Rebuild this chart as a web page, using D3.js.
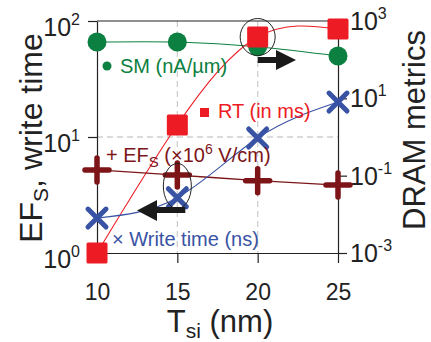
<!DOCTYPE html>
<html>
<head>
<meta charset="utf-8">
<script src="https://cdn.jsdelivr.net/npm/d3@7"></script>
<style>
  body { margin: 0; background: #fff; }
  svg { font-family: Arial, "Liberation Sans", Helvetica, sans-serif; }
</style>
</head>
<body>
<svg id="chart" width="431" height="342"></svg>
<script>
// Tsi (nm)
var tsi = [10, 15, 20, 25];
// left axis series
var efs = [5.2, 4.7, 4.2, 3.85];          // x10^6 V/cm
var writeTime = [2.0, 3.0, 9.8, 20];      // ns
// right axis series (DRAM metrics)
var sm = [286, 286, 215, 124];            // nA/um
var rt = [0.001, 2.05, 385, 620];         // ms

var xTicks = [10, 15, 20, 25];
var leftTicks = [1, 10, 100];
var rightTicks = [1e-3, 1e-1, 1e1, 1e3];

var colSM = "#0b8040", colRT = "#ed1c24", colEF = "#7d1518", colWT = "#3953a4";

var svg = d3.select("#chart");
//plot box (note: "top" is reserved on window, so use pTop)
var pLeft = 97, pRight = 338, pTop = 21, pBottom = 253;

var x = d3.scaleLinear().domain([10, 25]).range([pLeft, pRight]);
var yL = d3.scaleLog().domain([1, 100]).range([pBottom, pTop]);
var yR = d3.scaleLog().domain([1e-3, 1e3]).range([pBottom, pTop]);

//grid
var grid = svg.append("g").attr("stroke", "#cfcfcf").attr("stroke-width", 1.3).attr("stroke-dasharray", "6,4");
[15, 20].forEach(function (v) {
    grid.append("line").attr("x1", x(v)).attr("x2", x(v)).attr("y1", pTop).attr("y2", pBottom);
});
grid.append("line").attr("x1", pLeft).attr("x2", pRight).attr("y1", yL(10)).attr("y2", yL(10));

//top border
svg.append("line").attr("x1", pLeft).attr("x2", pRight).attr("y1", pTop).attr("y2", pTop)
    .attr("stroke", "#222").attr("stroke-width", 1.2);

function sup(v) {
    return Math.round(Math.log10(v));
}

//axes
var axB = svg.append("g").attr("transform", "translate(0," + pBottom + ")")
    .call(d3.axisBottom(x).tickValues(xTicks).tickSize(10).tickSizeOuter(0).tickFormat(d3.format("d")));
axB.selectAll("text").attr("dy", null).attr("y", 47).style("font-size", "23px").attr("fill", "#222");

var axL = svg.append("g").attr("transform", "translate(" + pLeft + ",0)")
    .call(d3.axisLeft(yL).tickValues(leftTicks).tickSize(9).tickSizeOuter(0).tickFormat(""));
var axR = svg.append("g").attr("transform", "translate(" + pRight + ",0)")
    .call(d3.axisRight(yR).tickValues(rightTicks).tickSize(9).tickSizeOuter(0).tickFormat(""));

[axB, axL, axR].forEach(function (a) {
    a.select(".domain").attr("stroke", "#222").attr("stroke-width", 1.2);
    a.selectAll(".tick line").attr("stroke", "#222").attr("stroke-width", 1.2);
});

//log tick labels with superscripts
leftTicks.forEach(function (v) {
    var t = svg.append("text").attr("x", 80).attr("y", yL(v) + 15)
        .attr("text-anchor", "end").attr("fill", "#222").style("font-size", "25px");
    t.append("tspan").text("10");
    t.append("tspan").attr("dy", -11).style("font-size", "16px").text(sup(v));
});
rightTicks.forEach(function (v) {
    var t = svg.append("text").attr("x", 350).attr("y", yR(v) + 9)
        .attr("fill", "#222").style("font-size", "25px");
    t.append("tspan").text("10");
    t.append("tspan").attr("dy", -11).style("font-size", "16px").text(sup(v));
});

//axis titles
var tl = svg.append("text").attr("transform", "translate(42,138) rotate(-90)")
    .attr("text-anchor", "middle").attr("fill", "#222").style("font-size", "32px");
tl.append("tspan").text("EF");
tl.append("tspan").attr("dy", 6).style("font-size", "21px").text("S");
tl.append("tspan").attr("dy", -6).text(", write time");

svg.append("text").attr("transform", "translate(425,130) rotate(-90)")
    .attr("text-anchor", "middle").attr("fill", "#222").style("font-size", "31px")
    .text("DRAM metrics");

var tb = svg.append("text").attr("x", 220).attr("y", 332)
    .attr("text-anchor", "middle").attr("fill", "#222").style("font-size", "31px");
tb.append("tspan").text("T");
tb.append("tspan").attr("dy", 6).style("font-size", "21px").text("si");
tb.append("tspan").attr("dy", -6).text(" (nm)");

//lines
function drawLine(vals, ys, col, w) {
    var line = d3.line()
        .x(function (d, i) { return x(tsi[i]); })
        .y(function (d) { return ys(d); })
        .curve(d3.curveNatural);
    svg.append("path").datum(vals).attr("d", line)
        .attr("fill", "none").attr("stroke", col).attr("stroke-width", w);
}
drawLine(sm, yR, colSM, 1.1);
drawLine(rt, yR, colRT, 1.1);
drawLine(efs, yL, colEF, 1.3);
drawLine(writeTime, yL, colWT, 1.1);

//markers
svg.append("g").selectAll("circle").data(sm).enter().append("circle")
    .attr("cx", function (d, i) { return x(tsi[i]); })
    .attr("cy", function (d) { return yR(d); })
    .attr("r", 9.5).attr("fill", colSM);

svg.append("g").selectAll("rect").data(rt).enter().append("rect")
    .attr("x", function (d, i) { return x(tsi[i]) - 10.5; })
    .attr("y", function (d) { return yR(d) - 10.5; })
    .attr("width", 21).attr("height", 21).attr("rx", 1.5).attr("fill", colRT);

svg.append("g").selectAll("path").data(efs).enter().append("path")
    .attr("transform", function (d, i) { return "translate(" + x(tsi[i]) + "," + yL(d) + ")"; })
    .attr("d", "M-12,0H12M0,-12V12")
    .attr("stroke", colEF).attr("stroke-width", 5.5).attr("stroke-linecap", "round");

svg.append("g").selectAll("path").data(writeTime).enter().append("path")
    .attr("transform", function (d, i) { return "translate(" + x(tsi[i]) + "," + yL(d) + ")"; })
    .attr("d", "M-9,-9L9,9M9,-9L-9,9")
    .attr("stroke", colWT).attr("stroke-width", 5).attr("stroke-linecap", "round");

//legend labels
svg.append("circle").attr("cx", 107).attr("cy", 66).attr("r", 4.5).attr("fill", colSM);
svg.append("text").attr("x", 120).attr("y", 73).attr("fill", colSM).style("font-size", "20px").text("SM (nA/µm)");

svg.append("rect").attr("x", 200).attr("y", 108).attr("width", 9).attr("height", 9).attr("fill", colRT);
svg.append("text").attr("x", 218).attr("y", 118).attr("fill", colRT).style("font-size", "20px").text("RT (in ms)");

var te = svg.append("text").attr("x", 106).attr("y", 162).attr("fill", colEF).style("font-size", "20px");
te.append("tspan").text("+ EF");
te.append("tspan").attr("dy", 5).style("font-size", "15px").text("S");
te.append("tspan").attr("dy", -5).text(" (×10");
te.append("tspan").attr("dy", -8).style("font-size", "14px").text("6");
te.append("tspan").attr("dy", 8).text(" V/cm)");

svg.append("text").attr("x", 112).attr("y", 246).attr("fill", colWT).style("font-size", "20px").text("× Write time (ns)");

//annotations
svg.append("ellipse").attr("cx", x(20)).attr("cy", 37).attr("rx", 17.5).attr("ry", 18.5)
    .attr("fill", "none").attr("stroke", "#222").attr("stroke-width", 1);
svg.append("ellipse").attr("cx", x(15)).attr("cy", 186).attr("rx", 14).attr("ry", 22.5)
    .attr("fill", "none").attr("stroke", "#222").attr("stroke-width", 1);

svg.append("path")
    .attr("d", "M" + x(20) + ",57H276V50L296,60L276,70V63H" + x(20) + "Z")
    .attr("fill", "#1a1a1a");
svg.append("path")
    .attr("d", "M" + (x(15) + 8) + ",207H157V200L137,210.5L157,221V213H" + (x(15) + 8) + "Z")
    .attr("fill", "#1a1a1a");
</script>
</body>
</html>
